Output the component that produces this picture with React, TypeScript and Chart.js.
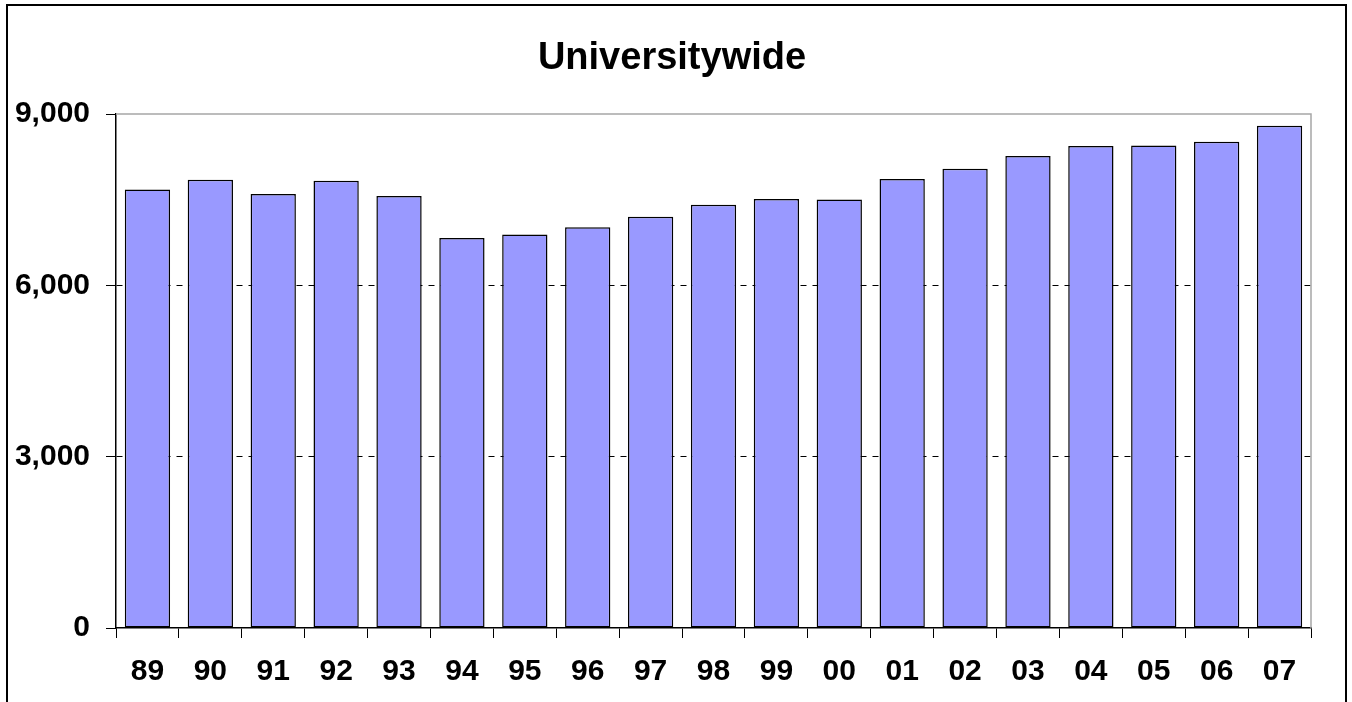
import React, { useEffect, useRef } from "react";
import { Chart, registerables } from "chart.js";

Chart.register(...registerables);

const categories = ["89", "90", "91", "92", "93", "94", "95", "96", "97", "98", "99", "00", "01", "02", "03", "04", "05", "06", "07"];
const values = [7680, 7850, 7600, 7830, 7565, 6830, 6890, 7015, 7200, 7410, 7510, 7505, 7860, 8040, 8265, 8440, 8450, 8515, 8795];
const yTicks = [0, 3000, 6000, 9000];
const titleText = "Universitywide";

const FONT = "'Liberation Sans', Arial, sans-serif";

const plotBorder = {
  id: "plotBorder",
  afterDraw(chart: any) {
    const { ctx, chartArea } = chart;
    ctx.save();
    ctx.strokeStyle = "#a6a6a6";
    ctx.lineWidth = 1.5;
    ctx.beginPath();
    ctx.moveTo(chartArea.left, chartArea.top);
    ctx.lineTo(chartArea.right, chartArea.top);
    ctx.lineTo(chartArea.right, chartArea.bottom);
    ctx.stroke();
    ctx.restore();
  },
};

export default function App() {
  const ref = useRef<HTMLCanvasElement | null>(null);
  useEffect(() => {
    if (!ref.current) return;
    const chart = new Chart(ref.current, {
      type: "bar",
      data: {
        labels: categories,
        datasets: [
          {
            data: values,
            backgroundColor: "#9999ff",
            borderColor: "#000000",
            borderWidth: 1.5,
            borderSkipped: false,
            barPercentage: 0.72,
            categoryPercentage: 1,
          },
        ],
      },
      options: {
        animation: false,
        responsive: false,
        maintainAspectRatio: false,
        layout: { padding: { left: 0, right: 8, top: 0, bottom: 0 } },
        plugins: {
          legend: { display: false },
          tooltip: { enabled: false },
          title: {
            display: true,
            text: titleText,
            color: "#000",
            font: { family: FONT, size: 38, weight: "bold" },
            padding: { top: 36, bottom: 32.4 },
          },
        },
        scales: {
          x: {
            grid: {
              display: true,
              drawOnChartArea: false,
              drawTicks: true,
              tickLength: 10,
              tickColor: "#000",
              tickWidth: 1,
              offset: true,
            },
            border: { display: true, color: "#000", width: 1.5 },
            ticks: {
              color: "#000",
              font: { family: FONT, size: 30, weight: "bold" },
              padding: 16,
              maxRotation: 0,
              autoSkip: false,
            },
            afterFit(s: any) {
              s.height = 74;
            },
          },
          y: {
            min: 0,
            max: 9000,
            afterBuildTicks(s: any) {
              s.ticks = yTicks.map((v) => ({ value: v }));
            },
            grid: {
              color: (c: any) => (c.tick && (c.tick.value === 3000 || c.tick.value === 6000) ? "#000" : "rgba(0,0,0,0)"),
              lineWidth: 1,
              tickLength: 10,
              tickColor: "#000",
              tickWidth: 1,
              tickBorderDash: [],
            },
            border: { display: true, color: "#000", width: 1.5, dash: [6, 6] },
            ticks: {
              color: "#000",
              font: { family: FONT, size: 30, weight: "bold" },
              padding: 16,
              callback: (v: any) => Number(v).toLocaleString("en-US"),
            },
            afterFit(s: any) {
              s.width = 116;
            },
          },
          yRight: {
            type: "linear",
            position: "right",
            display: true,
            grid: { display: false, drawTicks: false },
            border: { display: false },
            ticks: { display: false },
            afterFit(s: any) {
              s.width = 33;
            },
          },
        },
      },
      plugins: [plotBorder],
    });
    return () => chart.destroy();
  }, []);

  return (
    <div style={{ position: "fixed", left: 0, top: 0, width: 1352, height: 702, background: "#fff", overflow: "hidden" }}>
      <canvas ref={ref} width={1352} height={702} style={{ position: "absolute", left: 0, top: 0 }} />
      <div
        style={{
          position: "absolute",
          left: 6,
          top: 4,
          width: 1341,
          height: 760,
          border: "2px solid #000",
          boxSizing: "border-box",
          pointerEvents: "none",
        }}
      />
    </div>
  );
}
